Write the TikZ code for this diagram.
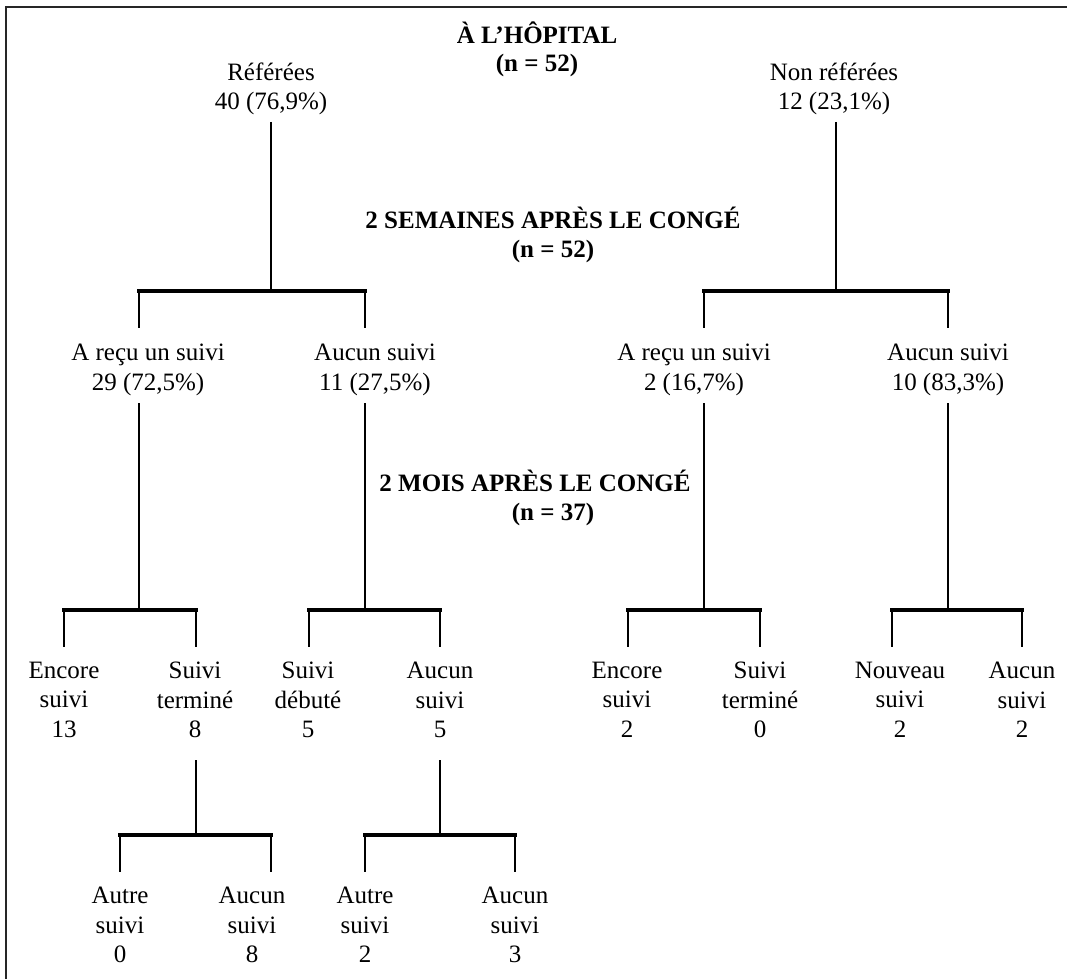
\documentclass[tikz,border=0pt]{standalone}
\usepackage{fontspec}
\setmainfont{Liberation Serif}
\begin{document}
\begin{tikzpicture}[x=0.5pt,y=-0.5pt,
  lbl/.style={align=center,anchor=north,inner sep=0pt,
    font={\fontsize{12.5}{14.6}\selectfont},
    execute at begin node={\rule{0pt}{12pt}}},
  hd/.style={lbl,font={\fontsize{12.5}{14.2}\selectfont\bfseries}},
  vline/.style={line width=1.3pt},
  hbar/.style={line width=1.75pt,line cap=rect},
  frame/.style={line width=1pt,black!85}]
\useasboundingbox (0,0) rectangle (1067,979);
% frame (top and left edges only)
\coordinate (fbl) at (6,979);
\coordinate (ftl) at (6,7);
\coordinate (ftr) at (1067,7);
\draw[frame] (fbl) -- (ftl) -- (ftr);

% headings
\node[hd] (hop) at (537,21) {À L’HÔPITAL\\(n = 52)};
\node[hd] (sem) at (553,207) {2 SEMAINES APRÈS LE CONGÉ\\(n = 52)};
\node[hd] (mois) at (535,467) {2 MOIS APRÈS LE CONGÉ};
\node[hd] (n37) at (553,496) {(n = 37)};

% level 1
\node[lbl] (ref) at (271,62) {Référées\\40 (76,9\%)};
\node[lbl] (nref) at (834,62) {Non référées\\12 (23,1\%)};

% level 2
\node[lbl] (a1) at (148,344) {A reçu un suivi\\29 (72,5\%)};
\node[lbl] (a2) at (375,344) {Aucun suivi\\11 (27,5\%)};
\node[lbl] (a3) at (694,344) {A reçu un suivi\\2 (16,7\%)};
\node[lbl] (a4) at (948,344) {Aucun suivi\\10 (83,3\%)};

% level 3
\node[lbl] (b1) at (64,662) {Encore\\suivi\\13};
\node[lbl] (b2) at (195,662) {Suivi\\terminé\\8};
\node[lbl] (b3) at (308,662) {Suivi\\débuté\\5};
\node[lbl] (b4) at (440,662) {Aucun\\suivi\\5};
\node[lbl] (b5) at (627,662) {Encore\\suivi\\2};
\node[lbl] (b6) at (760,662) {Suivi\\terminé\\0};
\node[lbl] (b7) at (900,662) {Nouveau\\suivi\\2};
\node[lbl] (b8) at (1022,662) {Aucun\\suivi\\2};

% level 4
\node[lbl] (c1) at (120,887) {Autre\\suivi\\0};
\node[lbl] (c2) at (252,887) {Aucun\\suivi\\8};
\node[lbl] (c3) at (365,887) {Autre\\suivi\\2};
\node[lbl] (c4) at (515,887) {Aucun\\suivi\\3};

% connector coordinates
\coordinate (ref-out) at (271,122);  \coordinate (ref-j) at (271,291);
\coordinate (nref-out) at (836,122); \coordinate (nref-j) at (836,291);
\foreach \n/\x in {a1/139,a2/365,a3/704,a4/948}{
  \coordinate (\n-top) at (\x,291); \coordinate (\n-end) at (\x,328);
  \coordinate (\n-out) at (\x,403); \coordinate (\n-j) at (\x,610);}
\foreach \n/\x in {b1/64,b2/196,b3/309,b4/440,b5/628,b6/760,b7/892,b8/1022}{
  \coordinate (\n-top) at (\x,610); \coordinate (\n-end) at (\x,647);}
\coordinate (b2-out) at (196,760); \coordinate (b2-j) at (196,835);
\coordinate (b4-out) at (440,760); \coordinate (b4-j) at (440,835);
\foreach \n/\x in {c1/120,c2/271,c3/365,c4/515}{
  \coordinate (\n-top) at (\x,835); \coordinate (\n-end) at (\x,872);}

% level 1 -> 2
\draw[vline] (ref-out) -- (ref-j);
\draw[vline] (nref-out) -- (nref-j);
\draw[hbar] (a1-top) -- (a2-top);
\draw[hbar] (a3-top) -- (a4-top);
\foreach \n in {a1,a2,a3,a4}{
  \draw[vline] (\n-top) -- (\n-end);
  \draw[vline] (\n-out) -- (\n-j);}
% level 2 -> 3
\draw[hbar] (b1-top) -- (b2-top);
\draw[hbar] (b3-top) -- (b4-top);
\draw[hbar] (b5-top) -- (b6-top);
\draw[hbar] (b7-top) -- (b8-top);
\foreach \n in {b1,b2,b3,b4,b5,b6,b7,b8}{
  \draw[vline] (\n-top) -- (\n-end);}
% level 3 -> 4
\draw[vline] (b2-out) -- (b2-j);
\draw[vline] (b4-out) -- (b4-j);
\draw[hbar] (c1-top) -- (c2-top);
\draw[hbar] (c3-top) -- (c4-top);
\foreach \n in {c1,c2,c3,c4}{
  \draw[vline] (\n-top) -- (\n-end);}
\end{tikzpicture}
\end{document}
